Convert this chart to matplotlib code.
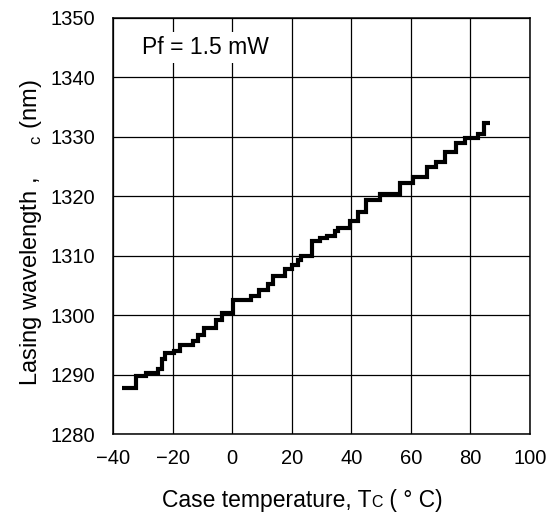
#!/usr/bin/env python3

import matplotlib
matplotlib.use('Agg')

import numpy                  as np
import matplotlib.pyplot      as plt
from matplotlib.offsetbox import TextArea, HPacker, AnchoredOffsetbox

plt.rcParams['font.family']      = ['Liberation Sans', 'DejaVu Sans']
plt.rcParams['mathtext.fontset'] = 'custom'
plt.rcParams['mathtext.rm']      = 'Liberation Sans'

# ===== Data: step edges (deg C) and plateau wavelengths (nm)
temp_edges = [-37.1, -32.4, -29.0, -25.0, -23.5, -22.6, -19.4, -17.5, -13.1, -11.4,
              -9.4,  -5.5,  -3.5,   0.4,   6.5,   9.0,  12.1,  13.8,  17.7,  20.2,
              22.2,  23.0,  26.7,  29.5,  31.7,  34.5,  35.4,  39.5,  42.3,  45.1,
              49.6,  56.3,  60.8,  65.3,  68.6,  71.4,  75.1,  78.1,  82.6,  84.6,
              86.5]
wavelength = [1287.7, 1289.8, 1290.2, 1290.9, 1292.7, 1293.7, 1294.0, 1294.9, 1295.7, 1296.7,
              1297.9, 1299.2, 1300.3, 1302.6, 1303.3, 1304.2, 1305.2, 1306.6, 1307.8, 1308.5,
              1309.3, 1310.0, 1312.5, 1312.9, 1313.3, 1314.1, 1314.6, 1315.9, 1317.4, 1319.3,
              1320.4, 1322.3, 1323.2, 1325.0, 1325.7, 1327.5, 1329.0, 1329.8, 1330.5, 1332.3]

xticks = np.arange(-40, 101, 20)
yticks = np.arange(1280, 1351, 10)
xtlab  = ['\u221240', '\u221220', '0', '20', '40', '60', '80', '100']

# ===== Figure
fig = plt.figure(figsize=(5.53, 5.17), dpi=100)
ax  = fig.add_axes([0.2043, 0.1605, 0.7541, 0.8047])

ax.stairs(wavelength, temp_edges, baseline=None, color='k', linewidth=3.0, zorder=3)

ax.set_xlim(-40, 100)
ax.set_ylim(1280, 1350)
ax.set_xticks(xticks)
ax.set_xticklabels(xtlab)
ax.set_yticks(yticks)
ax.grid(True, color='k', linewidth=0.9)
ax.tick_params(axis='both', length=0, labelsize=14.5)
ax.tick_params(axis='x', pad=11)
ax.tick_params(axis='y', pad=13)
for s in ax.spines.values():
   s.set_linewidth(1.1)

# Condition label with white patch over the grid
ax.text(-30.3, 1345.0, 'Pf = 1.5 mW', fontsize=16.5, ha='left', va='center', zorder=4,
        bbox=dict(facecolor='white', edgecolor='none', pad=3))

# Y label ( lambda glyph is missing in the original )
fig.text(0.056, 0.549, r'Lasing wavelength ,     ${}_\mathregular{c}$ (nm)',
         rotation=90, fontsize=17, ha='center', va='center')

# X label with small-cap C
parts = HPacker(children=[TextArea('Case temperature, T', textprops=dict(fontsize=16.5)),
                          TextArea('C', textprops=dict(fontsize=11.5)),
                          TextArea(' ( \u00b0 C)', textprops=dict(fontsize=16.5))],
                align='baseline', pad=0, sep=0)
box = AnchoredOffsetbox(loc='center', child=parts, frameon=False,
                        bbox_to_anchor=(0.546, 0.032), bbox_transform=fig.transFigure)
fig.add_artist(box)

plt.savefig('out.png', dpi=100)
plt.close()
